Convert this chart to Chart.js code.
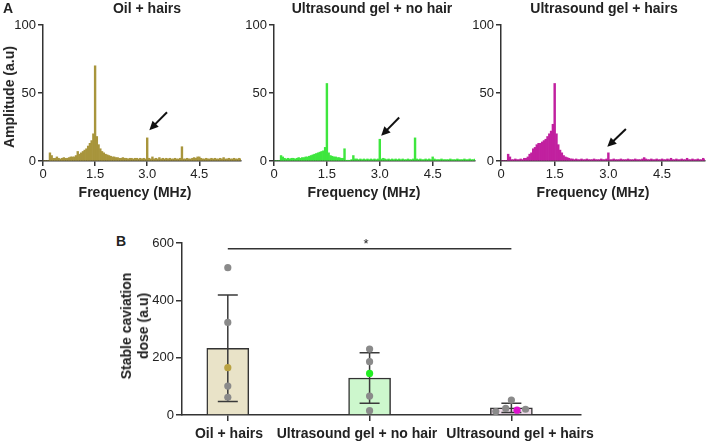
<!DOCTYPE html>
<html>
<head>
<meta charset="utf-8">
<script src="https://cdn.jsdelivr.net/npm/chart.js@4.4.0/dist/chart.umd.min.js"></script>
<style>
  body { margin: 0; width: 707px; height: 443px; background: #fff; position: relative; overflow: hidden;
         font-family: "Liberation Sans", Arial, sans-serif; color: #222; }
  .box { position: absolute; }
  .lbl { position: absolute; font-weight: bold; font-size: 14px; line-height: 16px; white-space: nowrap;
         transform: translate(-50%, -50%); }
  .rot { transform: translate(-50%, -50%) rotate(-90deg); text-align: center; }
</style>
</head>
<body>
<div class="box" style="left:0;top:0;width:245px;height:200px"><canvas id="specOil"></canvas></div>
<div class="box" style="left:240px;top:0;width:240px;height:200px"><canvas id="specGel"></canvas></div>
<div class="box" style="left:470px;top:0;width:237px;height:200px"><canvas id="specGelHairs"></canvas></div>
<div class="box" style="left:150px;top:230px;width:435px;height:213px"><canvas id="doseChart"></canvas></div>

<div class="lbl" style="left:8px;top:8px">A</div>
<div class="lbl" style="left:147px;top:8px">Oil + hairs</div>
<div class="lbl" style="left:372px;top:8px">Ultrasound gel + no hair</div>
<div class="lbl" style="left:604px;top:8px">Ultrasound gel + hairs</div>
<div class="lbl rot" style="left:9px;top:97px">Amplitude (a.u)</div>
<div class="lbl" style="left:135px;top:192px">Frequency (MHz)</div>
<div class="lbl" style="left:364px;top:192px">Frequency (MHz)</div>
<div class="lbl" style="left:593px;top:192px">Frequency (MHz)</div>

<div class="lbl" style="left:121px;top:241px">B</div>
<div class="lbl rot" style="left:135px;top:326px;line-height:17px">Stable caviation<br>dose (a.u)</div>
<div class="lbl" style="left:229px;top:433px">Oil + hairs</div>
<div class="lbl" style="left:357px;top:433px">Ultrasound gel + no hair</div>
<div class="lbl" style="left:520px;top:433px">Ultrasound gel + hairs</div>
<div class="lbl" style="left:366px;top:244px;font-weight:normal;font-size:13px">*</div>

<script>
// spectra, one value per 0.05 MHz bin from 0 to 5.70 MHz
const binStep = 0.05;
const oilSpectrum = [
  0, 0, 0, 0, 6, 4, 2, 2, 3, 2,
  1.5, 2, 2.5, 2, 2, 2.5, 3, 3, 3, 4,
  7, 5, 6, 7, 8, 9, 11, 13, 15, 20,
  70, 18, 12, 9, 7, 6, 5, 4.5, 4, 3.5,
  3, 3, 2.5, 2.5, 2, 2, 2.5, 2, 2, 1.5,
  2, 2, 1.5, 2, 2, 1.5, 2, 1.5, 2, 1.5,
  17, 2, 1.5, 3, 1.5, 2, 1.5, 2.5, 1.5, 2,
  1.5, 2, 1.5, 2, 1.5, 1.5, 2, 1.5, 1.5, 2,
  10.5, 1.5, 1.5, 2, 1.5, 1.5, 2, 2.5, 2, 3,
  3, 2, 1.5, 1.5, 2, 1.5, 1.5, 2, 1.5, 2,
  1.5, 1.5, 2, 1.5, 2.5, 1.5, 1.5, 2, 1.5, 1.5,
  2, 1.5, 1.5, 2, 1.5
];
const gelSpectrum = [
  0, 0, 0, 0, 4, 3, 2, 1.5, 2, 1.5,
  2, 2, 1.5, 2, 2.5, 2, 2.5, 2.5, 3, 3,
  3.5, 4, 4.5, 5, 5.5, 6, 6.5, 7, 7.5, 10,
  57, 6, 4, 3.5, 3, 3, 2.5, 2.5, 2, 2,
  9, 0.5, 0.5, 0.5, 1, 4, 1.5, 1.5, 1, 1.5,
  1, 1.5, 1, 1.5, 1, 1.5, 1, 1.5, 1, 1.5,
  16, 1.5, 2, 1.5, 1, 1.5, 1, 1.5, 1, 1.5,
  1, 1.5, 1, 1.5, 1, 1, 1.5, 1, 1, 1.5,
  17, 1.5, 1, 1.5, 1, 1, 1.5, 1, 1.5, 1,
  3, 1.5, 1, 1, 1, 1.5, 1, 1, 1, 1,
  1.5, 1, 1, 1, 1.5, 1, 1, 1, 1.5, 1,
  1, 1.5, 1, 1, 1.5
];
const gelHairsSpectrum = [
  0, 0, 0, 0, 5, 3, 1, 1, 1.5, 1,
  1, 1.5, 1, 2, 2, 3, 5, 6, 9, 10,
  12, 13, 13, 14, 15, 16, 18, 20, 22, 27,
  57, 20, 12, 8, 6, 4, 3, 2.5, 2, 1.5,
  1.5, 1, 1.5, 1, 1, 1.5, 1, 1, 1.5, 1,
  1, 1, 1.5, 1, 1, 1, 1.5, 1, 1, 1.5,
  6, 1, 1, 1.5, 1, 1, 1, 1.5, 1, 1,
  1, 1.5, 1, 1, 1, 1.5, 1, 1, 1, 1.5,
  2.5, 1.5, 1, 1, 1.5, 1, 1, 1.5, 1, 1,
  1.5, 1, 1, 1.5, 1, 2, 1, 1, 1.5, 1,
  1, 1.5, 1, 1, 2, 1, 1, 1.5, 1, 1,
  1.5, 1, 1, 2, 1
];

// panel B
const groups = ['Oil + hairs', 'Ultrasound gel + no hair', 'Ultrasound gel + hairs'];
const meanDose = [233, 129, 25];
const sdDose = [186, 88, 16];
const oilDose = [514, 323, 165, 101, 62];
const gelDose = [230, 186, 145, 66, 15];
const gelHairsDose = [12, 23, 52, 17, 20];
const gelHairsJitter = [-0.11, -0.04, 0, 0.04, 0.10];
const highlightIndex = [2, 2, 3];
const sigLevel = 580;

const axisColor = '#333';
const tickFont = { family: '"Liberation Sans", Arial, sans-serif', size: 13 };

const spikeArrow = {
  id: 'spikeArrow',
  afterDraw(chart, args, opts) {
    const { ctx, scales: { x, y } } = chart;
    const tx = x.getPixelForValue(opts.tip[0]), ty = y.getPixelForValue(opts.tip[1]);
    const sx = x.getPixelForValue(opts.tail[0]), sy = y.getPixelForValue(opts.tail[1]);
    const ang = Math.atan2(ty - sy, tx - sx);
    const head = 10;
    ctx.save();
    ctx.strokeStyle = ctx.fillStyle = '#111';
    ctx.lineWidth = 2;
    ctx.beginPath();
    ctx.moveTo(sx, sy);
    ctx.lineTo(tx - Math.cos(ang) * head * 0.7, ty - Math.sin(ang) * head * 0.7);
    ctx.stroke();
    ctx.beginPath();
    ctx.moveTo(tx, ty);
    ctx.lineTo(tx - head * Math.cos(ang - 0.45), ty - head * Math.sin(ang - 0.45));
    ctx.lineTo(tx - head * Math.cos(ang + 0.45), ty - head * Math.sin(ang + 0.45));
    ctx.closePath();
    ctx.fill();
    ctx.restore();
  }
};

function spectrumChart(id, values, color, yWidth, rightPad, arrow) {
  const points = values.map((v, i) => ({ x: i * binStep, y: v }));
  return new Chart(document.getElementById(id), {
    type: 'bar',
    data: {
      datasets: [{
        data: points,
        backgroundColor: color,
        borderWidth: 0,
        barPercentage: 1,
        categoryPercentage: 1,
      }],
    },
    options: {
      responsive: true,
      maintainAspectRatio: false,
      animation: false,
      layout: { padding: { top: 25, right: rightPad, left: 0, bottom: 0 } },
      plugins: { legend: { display: false }, tooltip: { enabled: false }, spikeArrow: arrow },
      scales: {
        x: {
          type: 'linear', min: 0, max: 5.7, offset: false,
          afterFit: s => { s.height = 39; },
          border: { color: axisColor, width: 1.5 },
          grid: { offset: false, drawOnChartArea: false, color: axisColor, lineWidth: 1.5, tickLength: 5 },
          ticks: {
            stepSize: 1.5, includeBounds: false, autoSkip: false, maxRotation: 0, padding: 1,
            color: '#222', font: tickFont,
            callback: v => (v === 0 ? '0' : v.toFixed(1)),
          },
        },
        y: {
          min: 0, max: 100,
          afterFit: s => { s.width = yWidth; },
          border: { color: axisColor, width: 1.5 },
          grid: { drawOnChartArea: false, color: axisColor, lineWidth: 1.5, tickLength: 5 },
          ticks: { stepSize: 50, padding: 2, color: '#222', font: tickFont },
        },
      },
    },
    plugins: [spikeArrow],
  });
}

spectrumChart('specOil', oilSpectrum, '#a8953c', 43, 4, { tip: [3.06, 22.7], tail: [3.57, 35.8] });
spectrumChart('specGel', gelSpectrum, '#3ee63e', 34, 5, { tip: [3.04, 18.5], tail: [3.55, 32] });
spectrumChart('specGelHairs', gelHairsSpectrum, '#c1209f', 31, 2, { tip: [2.97, 10.4], tail: [3.49, 23.5] });

const errorBars = {
  id: 'errorBars',
  afterDatasetDraw(chart, args) {
    if (args.index !== 0) return;
    const { ctx, scales: { x, y } } = chart;
    ctx.save();
    ctx.strokeStyle = '#3a3a3a';
    ctx.lineWidth = 1.5;
    meanDose.forEach((m, i) => {
      const px = x.getPixelForValue(i + 1);
      const top = y.getPixelForValue(m + sdDose[i]);
      const bot = y.getPixelForValue(Math.max(m - sdDose[i], 0));
      ctx.beginPath();
      ctx.moveTo(px, top); ctx.lineTo(px, bot);
      ctx.moveTo(px - 10, top); ctx.lineTo(px + 10, top);
      ctx.moveTo(px - 10, bot); ctx.lineTo(px + 10, bot);
      ctx.stroke();
    });
    ctx.restore();
  }
};

const grey = '#8a8a8a';
const highlightColors = ['#b9a242', '#22ee22', '#dd10cc'];
const dotsFor = (vals, g, jitter) => ({
  type: 'scatter',
  order: 1,
  data: vals.map((v, i) => ({ x: g + 1 + (jitter ? jitter[i] : 0), y: v })),
  pointRadius: 3.6,
  pointBorderWidth: 0,
  pointBackgroundColor: vals.map((v, i) => (i === highlightIndex[g] ? highlightColors[g] : grey)),
});

new Chart(document.getElementById('doseChart'), {
  type: 'bar',
  data: {
    datasets: [
      {
        order: 3,
        data: meanDose.map((m, i) => ({ x: i + 1, y: m })),
        backgroundColor: ['#e9e3c8', '#cdf7cd', '#efdcea'],
        borderColor: '#333',
        borderWidth: 1.5,
        barThickness: 42,
      },
      dotsFor(oilDose, 0),
      dotsFor(gelDose, 1),
      dotsFor(gelHairsDose, 2, gelHairsJitter),
      {
        type: 'line',
        order: 2,
        data: [{ x: 1, y: sigLevel }, { x: 3, y: sigLevel }],
        borderColor: '#333',
        borderWidth: 1.5,
        pointRadius: 0,
      },
    ],
  },
  options: {
    responsive: true,
    maintainAspectRatio: false,
    animation: false,
    layout: { padding: { top: 13, right: 2, left: 0, bottom: 0 } },
    plugins: { legend: { display: false }, tooltip: { enabled: false } },
    scales: {
      x: {
        type: 'linear', min: 0.677, max: 3.491, offset: false,
        afterFit: s => { s.height = 28; },
        border: { color: axisColor, width: 1.5 },
        grid: { offset: false, drawOnChartArea: false, color: axisColor, lineWidth: 1.5, tickLength: 6 },
        ticks: { stepSize: 1, includeBounds: false, display: false },
      },
      y: {
        min: 0, max: 600,
        afterFit: s => { s.width = 32; },
        border: { color: axisColor, width: 1.5 },
        grid: { drawOnChartArea: false, color: axisColor, lineWidth: 1.5, tickLength: 6 },
        ticks: { stepSize: 200, padding: 2, color: '#222', font: tickFont },
      },
    },
  },
  plugins: [errorBars],
});
</script>
</body>
</html>
